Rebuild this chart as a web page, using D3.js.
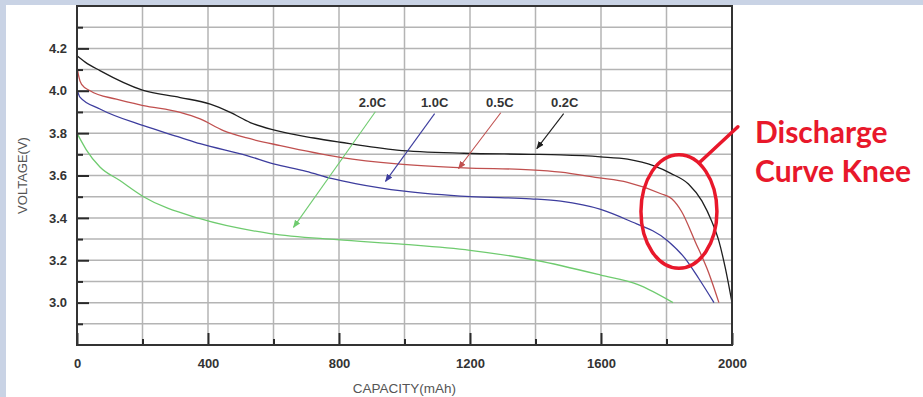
<!DOCTYPE html>
<html>
<head>
<meta charset="utf-8">
<script src="https://cdn.jsdelivr.net/npm/d3@7"></script>
<style>
  html, body { margin: 0; padding: 0; background: #ffffff; }
  svg { display: block; }
</style>
</head>
<body>
<svg id="chart" width="923" height="397"></svg>
<script>
// ---------------- DATA ----------------
const xTicksMajor = [0, 400, 800, 1200, 1600, 2000];
const xTicksMinor = [200, 600, 1000, 1400, 1800];
const yTicksMajor = [3.0, 3.2, 3.4, 3.6, 3.8, 4.0, 4.2];
const yTicksMinor = [2.9, 3.1, 3.3, 3.5, 3.7, 3.9, 4.1, 4.3];
const xGrid = [200, 400, 600, 800, 1000, 1200, 1400, 1600, 1800];
const yGrid = [2.9, 3.0, 3.1, 3.2, 3.3, 3.4, 3.5, 3.6, 3.7, 3.8, 3.9, 4.0, 4.1, 4.2, 4.3];

const seriesNames = ["0.2C", "0.5C", "1.0C", "2.0C"];

const cap02  = [0, 25, 70, 200, 315, 407, 468, 529, 600, 723, 804, 977, 1181, 1385, 1477, 1599, 1681, 1762, 1813, 1867, 1908, 1939, 1960, 1980, 2000];
const volt02 = [4.165, 4.135, 4.095, 4.003, 3.968, 3.937, 3.898, 3.85, 3.815, 3.777, 3.757, 3.72, 3.705, 3.70, 3.697, 3.688, 3.677, 3.645, 3.61, 3.56, 3.48, 3.38, 3.29, 3.16, 3.0];

const cap05  = [0, 5, 14, 40, 120, 203, 315, 376, 447, 519, 621, 804, 977, 1181, 1385, 1477, 1589, 1681, 1783, 1816, 1846, 1887, 1929, 1960];
const volt05 = [4.118, 4.07, 4.03, 4.0, 3.96, 3.93, 3.898, 3.867, 3.812, 3.777, 3.741, 3.686, 3.655, 3.636, 3.627, 3.616, 3.59, 3.568, 3.514, 3.49, 3.43, 3.29, 3.14, 3.0];

const cap10  = [0, 9, 70, 203, 315, 376, 519, 600, 700, 780, 850, 999, 1202, 1385, 1477, 1599, 1681, 1805, 1856, 1898, 1945];
const volt10 = [4.008, 3.97, 3.914, 3.835, 3.78, 3.75, 3.694, 3.655, 3.62, 3.585, 3.562, 3.526, 3.50, 3.49, 3.479, 3.44, 3.39, 3.29, 3.21, 3.115, 3.0];

const cap20  = [0, 14, 29, 70, 131, 203, 376, 590, 794, 1000, 1200, 1400, 1599, 1713, 1820];
const volt20 = [3.80, 3.76, 3.72, 3.64, 3.576, 3.50, 3.396, 3.326, 3.297, 3.275, 3.247, 3.20, 3.13, 3.085, 3.0];

// annotation label anchor (capacity, voltage), arrow tail and arrow tip in data units
const labelCap  = [1489, 1291, 1092, 902];
const labelVolt = [3.925, 3.925, 3.925, 3.925];
const tailCap   = [1486, 1294, 1092, 911];
const tailVolt  = [3.892, 3.896, 3.892, 3.901];
const tipCap    = [1404, 1165, 942, 661];
const tipVolt   = [3.727, 3.633, 3.572, 3.355];

const kneeTitle = ["Discharge", "Curve Knee"];

// ---------------- CHART ----------------
const W = 923, H = 397;
const svg = d3.select("#chart");
const colors = ["#1e1e1e", "#c0504f", "#3d3d9e", "#6fcb6f"];

// background frame
svg.append("rect").attr("x", 0).attr("y", 0).attr("width", W).attr("height", H).attr("fill", "#c9d3e5");
svg.append("rect").attr("x", 6).attr("y", 5).attr("width", W - 6).attr("height", H - 5).attr("fill", "#ffffff");

const x = d3.scaleLinear().domain([0, 2000]).range([77, 732]);
const y = d3.scaleLinear().domain([2.8, 4.4]).range([345, 6]);

// grid
const grid = svg.append("g");
grid.selectAll("line.h").data(yGrid).join("line")
  .attr("x1", x(0)).attr("x2", x(2000))
  .attr("y1", d => y(d)).attr("y2", d => y(d))
  .attr("stroke", "#b4b4b4").attr("stroke-width", 1.5);
grid.selectAll("line.v").data(xGrid).join("line")
  .attr("y1", y(2.8)).attr("y2", y(4.4))
  .attr("x1", d => x(d)).attr("x2", d => x(d))
  .attr("stroke", "#b4b4b4").attr("stroke-width", 1.5);

// curves
const caps = [cap02, cap05, cap10, cap20];
const volts = [volt02, volt05, volt10, volt20];
const line = d3.line().x(d => x(d[0])).y(d => y(d[1])).curve(d3.curveMonotoneX);
seriesNames.forEach((name, i) => {
  const pts = caps[i].map((c, j) => [c, volts[i][j]]);
  svg.append("path").datum(pts)
    .attr("d", line)
    .attr("fill", "none")
    .attr("stroke", colors[i])
    .attr("stroke-width", 1.3);
});

// axes
const font = "'Liberation Sans', Arial, sans-serif";
function styleAxis(g) {
  g.select(".domain").remove();
  g.selectAll(".tick line").attr("stroke", "#2a2a2a").attr("stroke-width", 2);
  g.selectAll(".tick text").attr("fill", "#333").attr("font-family", font)
    .attr("font-size", 13).attr("font-weight", "bold");
}
svg.append("g").attr("transform", `translate(0,${y(2.8)})`)
  .call(d3.axisBottom(x).tickValues(xTicksMajor).tickSize(-12).tickPadding(14).tickFormat(d3.format("d")))
  .call(styleAxis);
svg.append("g").attr("transform", `translate(0,${y(2.8)})`)
  .call(d3.axisBottom(x).tickValues(xTicksMinor).tickSize(-6).tickFormat(""))
  .call(styleAxis);
svg.append("g").attr("transform", `translate(${x(0)},0)`)
  .call(d3.axisLeft(y).tickValues(yTicksMajor).tickSize(-12).tickPadding(10).tickFormat(d3.format(".1f")))
  .call(styleAxis);
svg.append("g").attr("transform", `translate(${x(0)},0)`)
  .call(d3.axisLeft(y).tickValues(yTicksMinor).tickSize(-6).tickFormat(""))
  .call(styleAxis);

// frame
svg.append("rect")
  .attr("x", x(0)).attr("y", y(4.4))
  .attr("width", x(2000) - x(0)).attr("height", y(2.8) - y(4.4))
  .attr("fill", "none").attr("stroke", "#333").attr("stroke-width", 2);

// axis titles
svg.append("text")
  .attr("x", (x(0) + x(2000)) / 2).attr("y", 393)
  .attr("text-anchor", "middle")
  .attr("font-family", font).attr("font-size", 13.5).attr("fill", "#555")
  .text("CAPACITY(mAh)");
svg.append("text")
  .attr("transform", `translate(27,${(y(2.8) + y(4.4)) / 2}) rotate(-90)`)
  .attr("text-anchor", "middle")
  .attr("font-family", font).attr("font-size", 13).attr("fill", "#555")
  .text("VOLTAGE(V)");

// series labels with arrows
const defs = svg.append("defs");
seriesNames.forEach((name, i) => {
  defs.append("marker")
    .attr("id", "arr" + i)
    .attr("viewBox", "0 0 10 10").attr("refX", 9).attr("refY", 5)
    .attr("markerWidth", 8).attr("markerHeight", 8)
    .attr("markerUnits", "userSpaceOnUse")
    .attr("orient", "auto")
    .append("path").attr("d", "M0,1 L10,5 L0,9 Z").attr("fill", colors[i]);
  svg.append("line")
    .attr("x1", x(tailCap[i])).attr("y1", y(tailVolt[i]))
    .attr("x2", x(tipCap[i])).attr("y2", y(tipVolt[i]))
    .attr("stroke", colors[i]).attr("stroke-width", 1.1)
    .attr("marker-end", `url(#arr${i})`);
  svg.append("text")
    .attr("x", x(labelCap[i])).attr("y", y(labelVolt[i]))
    .attr("text-anchor", "middle")
    .attr("font-family", font).attr("font-size", 13).attr("font-weight", "bold")
    .attr("fill", "#333")
    .text(name);
});

// knee annotation
const kneeRed = "#e8182b";
const kc = 1838, kv = 3.43;
svg.append("ellipse")
  .attr("cx", x(kc)).attr("cy", y(kv))
  .attr("rx", x(kc + 116) - x(kc)).attr("ry", y(kv) - y(kv + 0.268))
  .attr("fill", "none").attr("stroke", kneeRed).attr("stroke-width", 3.5);
svg.append("line")
  .attr("x1", x(1900)).attr("y1", y(3.66))
  .attr("x2", x(2018)).attr("y2", y(3.83))
  .attr("stroke", kneeRed).attr("stroke-width", 3.5).attr("stroke-linecap", "round");
const kt = svg.append("text")
  .attr("font-family", "Lato, 'Open Sans', sans-serif").attr("font-weight", "bold")
  .attr("font-size", 30).attr("fill", kneeRed);
kt.append("tspan").attr("x", 755).attr("y", 143).text(kneeTitle[0]);
kt.append("tspan").attr("x", 755).attr("y", 182).text(kneeTitle[1]);
</script>
</body>
</html>
